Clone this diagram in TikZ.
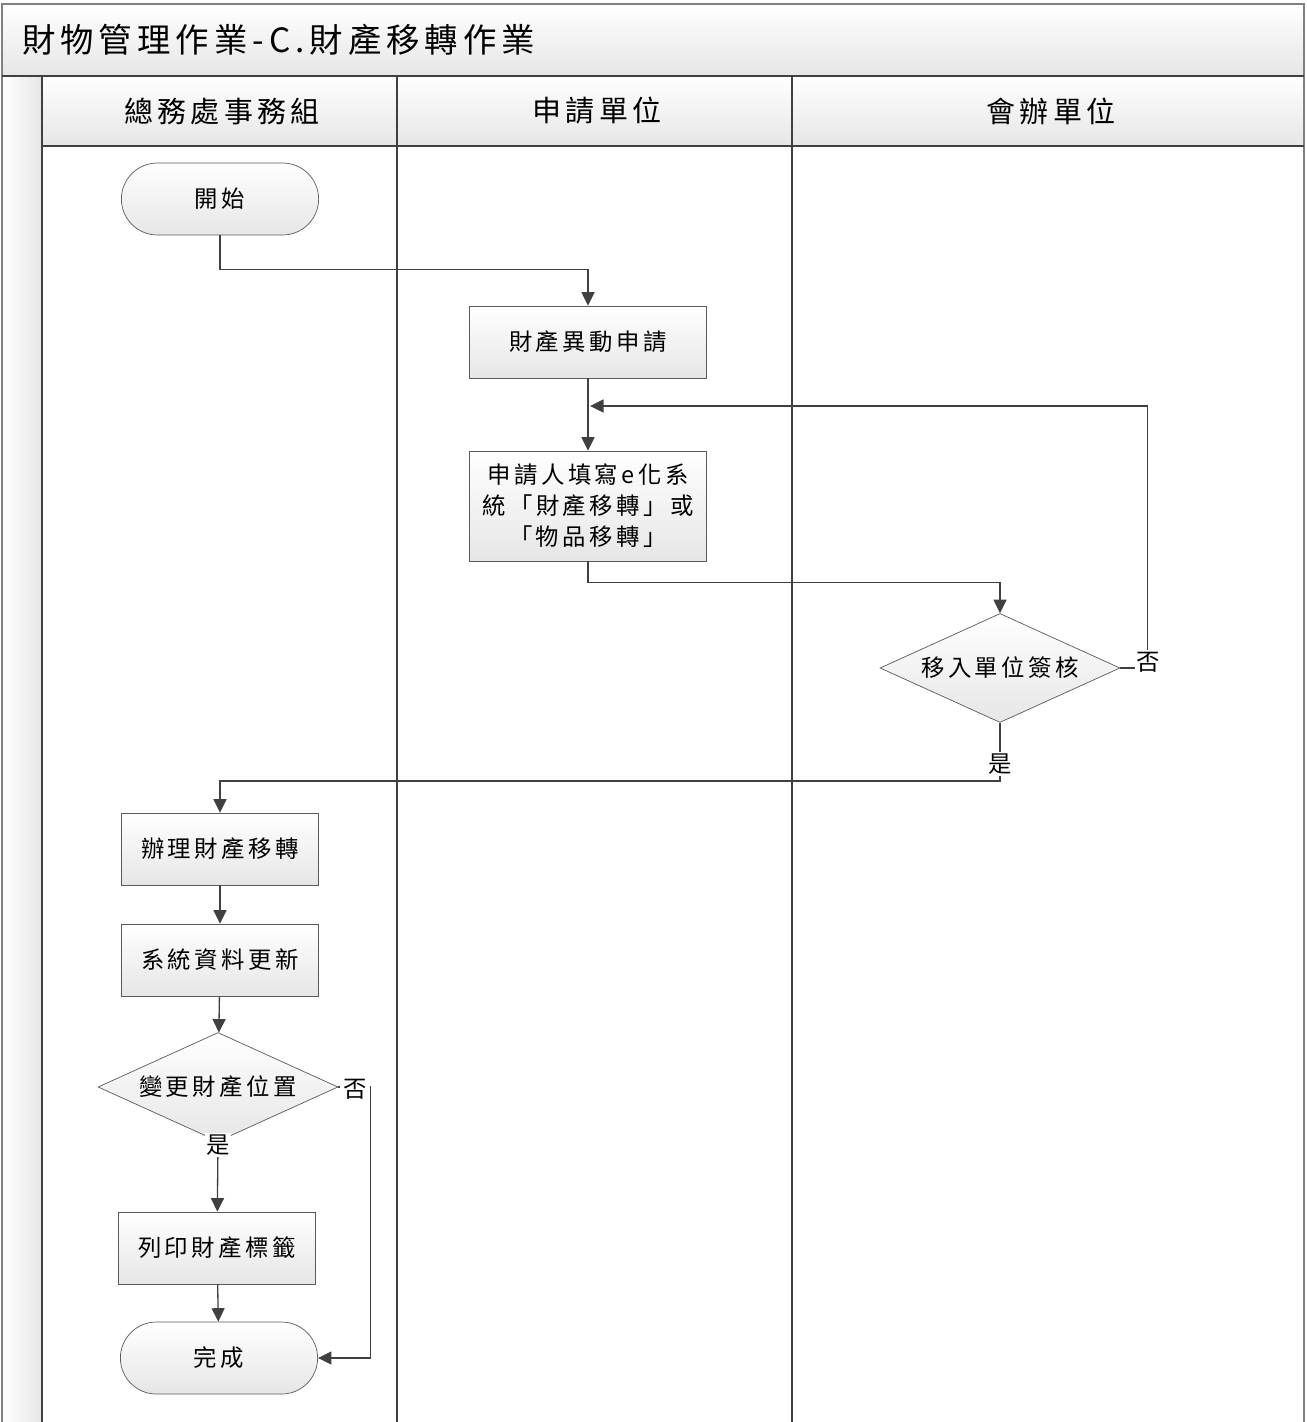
\documentclass[tikz,border=0pt]{standalone}
\usepackage{fontspec}
\setmainfont{Noto Sans CJK TC}[LetterSpace=15]
\usetikzlibrary{arrows.meta,shapes.geometric,shapes.misc}
\definecolor{Ink}{HTML}{404040}
\definecolor{Edge}{HTML}{5A5A5A}
\definecolor{Frame}{HTML}{808080}
\definecolor{Shade}{HTML}{E6E6E6}

\begin{document}
\begin{tikzpicture}[x=0.02cm, y=-0.02cm,
    frame/.style={draw=Frame, line width=1.1pt},
    lane/.style={draw=Ink, line width=0.8pt},
    head/.style={font=\fontsize{16.5}{20}\selectfont},
    task/.style={draw=Edge, top color=white, bottom color=Shade, minimum width=3.94cm, minimum height=1.44cm, align=center, inner sep=2pt, font=\fontsize{13.3}{17.6}\selectfont},
    widetask/.style={task, minimum width=4.74cm},
    term/.style={rounded rectangle, draw=Edge, top color=white, bottom color=Shade, minimum width=4.18cm, minimum height=1.44cm, font=\fontsize{13.3}{15}\selectfont},
    check/.style={diamond, aspect=2.2, draw=Edge, top color=white, bottom color=Shade, minimum width=4.8cm, minimum height=2.18cm, inner sep=0pt, font=\fontsize{13.3}{15}\selectfont},
    flow/.style={-{Triangle[length=0.27cm,width=0.26cm]}, draw=Ink, line width=0.75pt},
    tag/.style={fill=white, inner sep=1pt, font=\fontsize{13.3}{15}\selectfont}
  ]
    \useasboundingbox (0,0) rectangle (1306,1422);

    % swimlane frame
    \shade[top color=white, bottom color=Shade] (2,4) rectangle (1304,76);
    \shade[left color=white, right color=Shade] (2,76) rectangle (42,1422);
    \shade[top color=white, bottom color=Shade] (42,76) rectangle (1304,146);
    \draw[frame] (2,1422) -- (2,4) -- (1304,4) -- (1304,1422);
    \draw[lane] (2,76) -- (1304,76);
    \draw[lane] (42,146) -- (1304,146);
    \draw[lane] (42,76) -- (42,1422);
    \draw[lane] (397,76) -- (397,1422);
    \draw[lane] (792,76) -- (792,1422);

    \node[anchor=west, font=\fontsize{19}{22}\selectfont] (title) at (16,40) {財物管理作業-C.財產移轉作業};
    \node[head] (lane1) at (222,111) {總務處事務組};
    \node[head] (lane2) at (597,111) {申請單位};
    \node[head] (lane3) at (1051,111) {會辦單位};

    % steps
    \node[term] (start) at (220,199) {開始};
    \node[widetask] (apply) at (588,342) {財產異動申請};
    \node[widetask, minimum height=2.2cm] (fill) at (588,506) {申請人填寫e化系\\統「財產移轉」或\\「物品移轉」};
    \node[check] (sign) at (1000,668) {移入單位簽核};
    \node[task] (handle) at (220,849) {辦理財產移轉};
    \node[task] (update) at (220,960) {系統資料更新};
    \node[check] (move) at (218,1087) {變更財產位置};
    \node[task] (print) at (217,1248) {列印財產標籤};
    \node[term] (done) at (219,1358) {完成};

    \coordinate (back) at (590,406);

    % connectors
    \draw[flow] (start.south) -- ++(0,34) -| (apply);
    \draw[flow] (apply) -- (fill);
    \draw[flow] (fill.south) -- ++(0,21) -| (sign);
    \draw[flow] (sign.east) -- ++(27,0) |- (back);
    \node[tag] (no1) at (1148,662) {否};
    \draw[flow] (sign.south) -- ++(0,58) -| (handle);
    \node[tag] (yes1) at (1000,764) {是};
    \draw[flow] (handle) -- (update);
    \draw[flow] (update) -- (move);
    \draw[flow] (move.south) -- (print);
    \node[tag] (yes2) at (218,1145) {是};
    \draw[flow] (move.east) -- ++(32,0) |- (done.east);
    \node[tag, inner sep=2pt] (no2) at (355,1089) {否};
    \draw[flow] (print) -- (done);
\end{tikzpicture}
\end{document}
